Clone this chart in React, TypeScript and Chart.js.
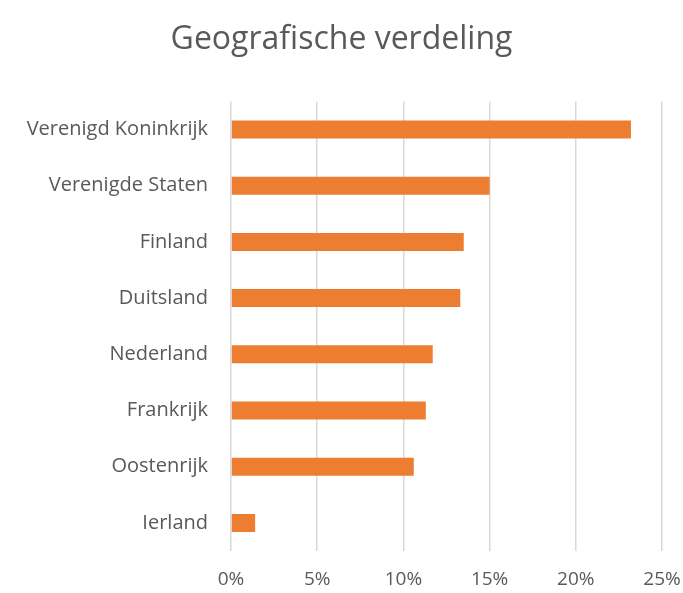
import React, { useEffect, useRef } from "react";
import { Chart, registerables } from "chart.js";

Chart.register(...registerables);

const categories = [
  "Verenigd Koninkrijk",
  "Verenigde Staten",
  "Finland",
  "Duitsland",
  "Nederland",
  "Frankrijk",
  "Oostenrijk",
  "Ierland",
];
const shares = [0.232, 0.15, 0.135, 0.133, 0.117, 0.113, 0.106, 0.014];
const tickValues = [0, 0.05, 0.1, 0.15, 0.2, 0.25];
const titleText = "Geografische verdeling";

const FONT = "'Open Sans', sans-serif";
const TEXT = "#595959";

export default function App() {
  const ref = useRef<HTMLCanvasElement | null>(null);
  useEffect(() => {
    document.body.style.margin = "0";
    const ctx = ref.current!.getContext("2d")!;
    const chart = new Chart(ctx, {
      type: "bar",
      data: {
        labels: categories,
        datasets: [
          {
            data: shares,
            backgroundColor: "#ED7D31",
            borderWidth: 0,
            categoryPercentage: 1,
            barPercentage: 0.32,
          },
        ],
      },
      options: {
        indexAxis: "y",
        responsive: false,
        animation: false,
        layout: { padding: { left: 0, right: 0, top: 0, bottom: 0 } },
        plugins: {
          legend: { display: false },
          tooltip: { enabled: false },
          title: {
            display: true,
            text: titleText,
            color: TEXT,
            font: { family: FONT, size: 32, weight: "normal" },
            padding: { top: 21, bottom: 42 },
          },
        },
        scales: {
          x: {
            min: 0,
            max: 0.25,
            afterBuildTicks: (s: any) => {
              s.ticks = tickValues.map((v) => ({ value: v }));
            },
            afterFit: (s: any) => {
              s.height = 42;
              s.paddingRight = 21;
              s.paddingLeft = 0;
            },
            ticks: {
              color: TEXT,
              font: { family: FONT, size: 19 },
              padding: 17,
              callback: (v: any) => Math.round(Number(v) * 100) + "%",
            },
            grid: { color: "#d9d9d9", lineWidth: 1.5, drawTicks: false },
            border: { display: false },
          },
          y: {
            afterFit: (s: any) => {
              s.width = 231;
            },
            ticks: {
              color: TEXT,
              font: { family: FONT, size: 20 },
              padding: 15,
            },
            grid: { display: false },
            border: { display: false },
          },
        },
      },
    });
    return () => chart.destroy();
  }, []);
  return <canvas ref={ref} width={683} height={593} style={{ display: "block" }} />;
}
